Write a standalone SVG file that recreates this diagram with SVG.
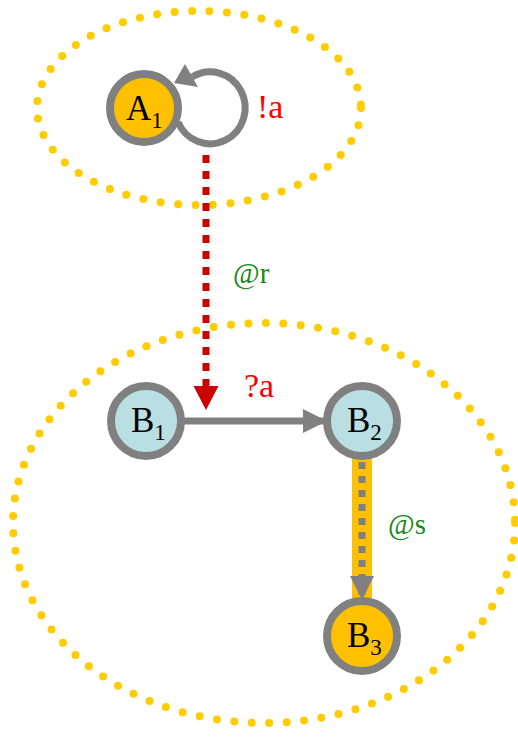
<svg xmlns="http://www.w3.org/2000/svg" width="518" height="737" viewBox="0 0 518 737">
<style>
.grp{fill:none;stroke:#FFCC00;stroke-width:8;stroke-linecap:round;stroke-dasharray:0 17.5}
.node{stroke:#808080;stroke-width:8}
.lbl{font-family:"Liberation Serif","DejaVu Serif",serif;font-size:35px;fill:#000}
.sub{font-size:23px}
.red{font-family:"Liberation Serif",serif;font-size:34px;fill:#FF0000}
.grn{font-family:"Liberation Serif",serif;font-size:29px;fill:#1A8A1A}
</style>
<defs>
<marker id="ag" markerWidth="26" markerHeight="26" refX="22" refY="12" orient="auto" markerUnits="userSpaceOnUse" viewBox="0 0 26 24"><path d="M0,0 L24,12 L0,24 z" fill="#808080"/></marker>
<marker id="ar" markerWidth="26" markerHeight="26" refX="22" refY="12.5" orient="auto" markerUnits="userSpaceOnUse" viewBox="0 0 26 25"><path d="M0,0 L24,12.5 L0,25 z" fill="#CC0000"/></marker>
</defs>
<g id="groups">
<ellipse class="grp" cx="199" cy="108" rx="162" ry="97"/>
<ellipse class="grp" cx="264" cy="523" rx="251" ry="200"/>
</g>
<g id="connectors">
<path d="M178,122 A35,36 0 1 0 192,77" fill="none" stroke="#808080" stroke-width="7"/>
<polygon points="185,64 174,83 198,87" fill="#808080"/>
<line x1="206" y1="155" x2="206" y2="408" stroke="#CC0000" stroke-width="7" stroke-dasharray="8 8" marker-end="url(#ar)"/>
<line x1="184" y1="421" x2="325" y2="421" stroke="#808080" stroke-width="7" marker-end="url(#ag)"/>
<line x1="362" y1="458" x2="362" y2="598" stroke="#FFC000" stroke-width="20"/>
<line x1="362" y1="462" x2="362" y2="598" stroke="#808080" stroke-width="7" stroke-dasharray="7 7" marker-end="url(#ag)"/>
<text class="red" x="257" y="118">!a</text>
<text class="grn" x="233" y="283">@r</text>
<text class="red" x="244" y="397">?a</text>
<text class="grn" x="388" y="534">@s</text>
</g>
<g id="A1">
<circle class="node" cx="144" cy="108" r="34" fill="#FFC000"/>
<text class="lbl" x="126" y="120">A<tspan class="sub" dy="8">1</tspan></text>
</g>
<g id="B1">
<circle class="node" cx="146" cy="421" r="35" fill="#BADFE3"/>
<text class="lbl" x="131" y="432">B<tspan class="sub" dy="8">1</tspan></text>
</g>
<g id="B2">
<circle class="node" cx="362" cy="421" r="35" fill="#BADFE3"/>
<text class="lbl" x="347" y="432">B<tspan class="sub" dy="8">2</tspan></text>
</g>
<g id="B3">
<circle class="node" cx="362" cy="636" r="35" fill="#FFC000"/>
<text class="lbl" x="347" y="647">B<tspan class="sub" dy="8">3</tspan></text>
</g>
</svg>
